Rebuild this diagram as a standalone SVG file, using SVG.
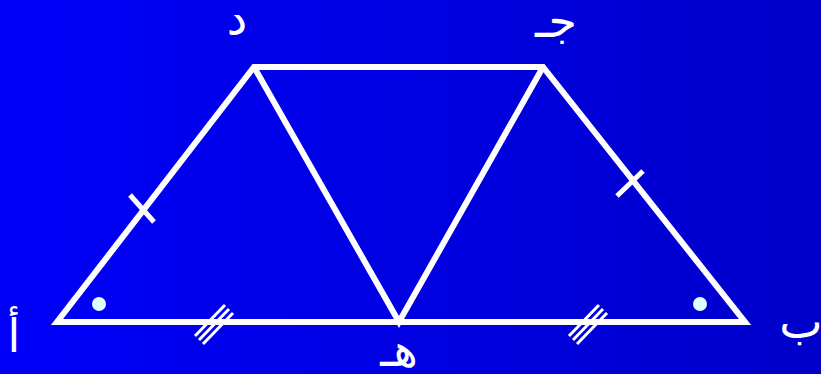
<svg xmlns="http://www.w3.org/2000/svg" width="821" height="374" viewBox="0 0 821 374">
<defs>
<linearGradient id="bg" x1="0" y1="0" x2="1" y2="0">
<stop offset="0" stop-color="#0000FA"/>
<stop offset="1" stop-color="#0000CA"/>
</linearGradient>
</defs>
<style>
.ln{stroke:#fff;stroke-width:6;fill:none;stroke-linejoin:miter}
.tk{stroke:#fff;stroke-width:5;fill:none}
.tk3{stroke:#fff;stroke-width:3;fill:none}
.lb{fill:#fff;font-family:"DejaVu Sans",sans-serif;font-size:46px;text-anchor:middle}
.dot{fill:#E0FFFF}
</style>
<rect width="821" height="374" fill="url(#bg)"/>
<g id="connectors">
<polygon class="ln" points="57,322 745,322 543,67 254,67"/>
<polyline class="ln" points="254,67 399,322 543,67"/>
<line class="tk" x1="130" y1="195" x2="154" y2="222"/>
<line class="tk" x1="617" y1="196" x2="643" y2="171"/>
<g class="tk3">
<line x1="225" y1="305" x2="195" y2="336"/>
<line x1="229" y1="309" x2="199" y2="340"/>
<line x1="233" y1="313" x2="203" y2="344"/>
<line x1="599" y1="305" x2="569" y2="336"/>
<line x1="603" y1="309" x2="573" y2="340"/>
<line x1="607" y1="313" x2="577" y2="344"/>
</g>
</g>
<g id="angleA"><circle class="dot" cx="99" cy="304" r="7"/></g>
<g id="angleB"><circle class="dot" cx="700" cy="304" r="7"/></g>
<g id="nodeA"><text class="lb" x="14" y="352">أ</text></g>
<g id="nodeB"><text class="lb" x="801" y="338">ب</text></g>
<g id="nodeE"><text class="lb" x="399" y="366">هـ</text></g>
<g id="nodeD"><text class="lb" x="237" y="35">د</text></g>
<g id="nodeC"><text class="lb" x="556" y="37">جـ</text></g>
</svg>
